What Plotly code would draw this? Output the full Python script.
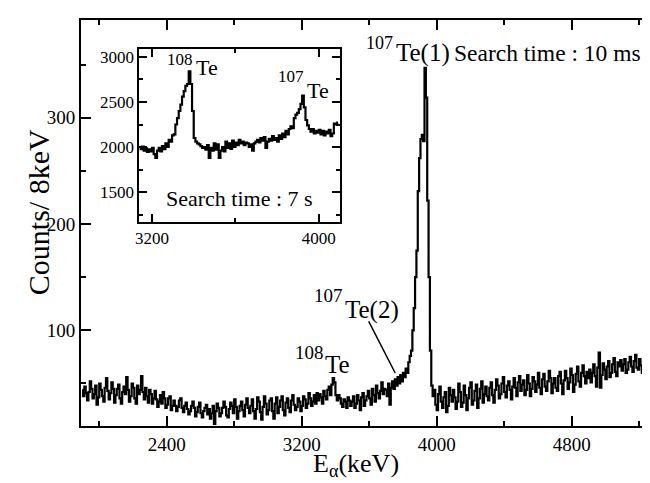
import numpy as np
import plotly.graph_objects as go

# ---------------- data ----------------
BIN_KEV = 8
main_start_kev = 1900          # centre of first bin of the main spectrum
counts_main = [
    44, 38, 47, 41, 34, 42, 52, 45, 36, 40, 48, 30, 37, 50, 44, 38, 33, 46, 55, 43, 35, 41, 51, 45, 32,
    39, 45, 49, 36, 31, 42, 47, 40, 56, 44, 33, 38, 50, 46, 36, 31, 48, 40, 44, 57, 42, 35, 46, 38, 32,
    44, 40, 31, 36, 43, 35, 28, 33, 39, 31, 42, 36, 27, 30, 36, 38, 25, 29, 34, 29, 24, 28, 34, 36, 27,
    23, 29, 32, 26, 21, 24, 29, 33, 27, 19, 23, 28, 32, 22, 18, 24, 27, 30, 21, 26, 17, 22, 29, 12, 24,
    31, 27, 19, 22, 27, 33, 28, 20, 18, 26, 32, 29, 22, 35, 28, 17, 24, 29, 33, 25, 19, 30, 36, 27, 22,
    29, 35, 24, 17, 26, 37, 33, 23, 16, 28, 38, 31, 21, 25, 34, 36, 24, 17, 31, 37, 22, 28, 34, 38, 25,
    20, 32, 36, 27, 23, 34, 39, 30, 25, 28, 36, 33, 24, 29, 38, 35, 27, 31, 41, 36, 29, 33, 39, 31, 41,
    34, 40, 37, 31, 43, 38, 35, 44, 47, 39, 49, 55, 51, 39, 34, 39, 36, 31, 28, 35, 33, 27, 37, 34, 29,
    33, 38, 27, 31, 39, 34, 25, 37, 41, 29, 34, 38, 43, 36, 30, 45, 39, 33, 48, 41, 36, 43, 51, 40, 45,
    44, 38, 50, 30, 46, 52, 45, 54, 48, 56, 50, 58, 52, 60, 56, 64, 60, 70, 76, 81, 100, 121, 150, 175, 231,
    262, 280, 284, 278, 347, 319, 222, 150, 81, 48, 38, 44, 30, 25, 40, 47, 33, 27, 37, 42, 23, 29, 46, 39, 33,
    44, 37, 26, 33, 50, 42, 28, 32, 48, 39, 25, 36, 46, 51, 30, 34, 43, 49, 27, 36, 45, 52, 32, 40, 47,
    38, 34, 46, 51, 39, 32, 44, 54, 48, 36, 40, 50, 56, 42, 37, 48, 52, 44, 35, 47, 55, 46, 38, 51, 57,
    43, 49, 53, 39, 44, 58, 50, 38, 45, 56, 52, 42, 49, 60, 46, 40, 54, 59, 47, 43, 52, 62, 55, 41, 50,
    55, 46, 43, 57, 61, 50, 40, 53, 62, 55, 45, 51, 64, 58, 42, 49, 59, 66, 52, 47, 60, 67, 57, 50, 61,
    55, 63, 51, 60, 68, 57, 47, 65, 79, 46, 58, 69, 63, 54, 66, 71, 56, 60, 68, 74, 61, 57, 70, 66, 72,
    62, 68, 73, 60, 63, 70, 75, 66, 61, 71, 77, 65, 63, 73, 67, 60, 76, 72, 66, 78, 70, 64, 74, 77, 68,
    72,
]

inset_start_kev = 3140
counts_inset = [
    1990, 1975, 2005, 1960, 1985, 1945, 1975, 1950, 1990, 1920, 1880, 1960,
    1990, 1950, 2010, 1975, 2040, 2000, 2080, 2060, 2130, 2140,
    2250, 2320, 2400, 2470, 2560, 2620, 2680, 2700, 2840, 2700, 2400, 2100, 2060, 2040, 2030,
    2010, 1990, 2000, 1970, 2020, 1880, 1990, 1960, 2040, 1970, 2030, 1880, 1960, 2000, 1950, 2060,
    1990, 2040, 1980, 2070, 2000, 2050, 2020, 2080, 2040, 2060, 2020, 2050, 2040, 2000, 2030, 1960, 2040,
    2060, 2080, 2050, 2100, 2070, 2110, 1990, 2060, 2090, 2070, 2120, 2080, 2100, 2060, 2130, 2090,
    2150, 2110, 2180, 2140, 2200, 2230, 2210, 2320, 2360, 2380, 2420, 2480, 2570, 2440, 2300, 2240,
    2200, 2170, 2200, 2150, 2180, 2160, 2190, 2140, 2180, 2130, 2170, 2150, 2190, 2120, 2150, 2260,
    2250, 2270,
]

main_x_range = [1892, 5300]
main_y_range = [10, 392]
inset_x_range = [3140, 4102]
inset_y_range = [1167, 3092]

# ---------------- figure ----------------
x_main = main_start_kev + BIN_KEV * np.arange(len(counts_main))
x_inset = inset_start_kev + BIN_KEV * np.arange(len(counts_inset))

W, H = 650, 483
L, R, T, B = 73, 650, 12, 418
FONT = "Liberation Serif"


def px(X, Y):
    return (X - L) / (R - L), (B - Y) / (B - T)


fig = go.Figure()
fig.add_trace(go.Scatter(x=x_main, y=counts_main, mode="lines",
                         line=dict(color="black", width=2.2, shape="hvh"),
                         xaxis="x", yaxis="y", showlegend=False))
fig.add_trace(go.Scatter(x=x_inset, y=counts_inset, mode="lines",
                         line=dict(color="black", width=2.2, shape="hvh"),
                         xaxis="x2", yaxis="y2", showlegend=False))

ix0, iy1 = px(131.7, 40.7)
ix1, iy0 = px(333, 214)


def axis(rng, dtick, minor, ticklen, fsize, **kw):
    d = dict(range=rng, tick0=0, dtick=dtick, ticks="inside", ticklen=ticklen,
             tickwidth=1.5, tickcolor="black",
             minor=dict(dtick=minor, tick0=0, ticks="inside", ticklen=ticklen // 2,
                        tickwidth=1.5, tickcolor="black", showgrid=False),
             showline=True, linewidth=2, linecolor="black", mirror="allticks",
             showgrid=False, zeroline=False,
             tickfont=dict(family=FONT, size=fsize, color="black"))
    d.update(kw)
    return d


fig.update_layout(
    width=W, height=H,
    margin=dict(l=L, r=W - R, t=T, b=H - B),
    paper_bgcolor="white", plot_bgcolor="white",
    xaxis=axis(main_x_range, 800, 400, 10, 19, domain=[0, 1], anchor="y"),
    yaxis=axis(main_y_range, 100, 50, 10, 19, domain=[0, 1], anchor="x"),
    xaxis2=axis(inset_x_range, 800, 400, 8, 17, domain=[ix0, ix1], anchor="y2"),
    yaxis2=axis(inset_y_range, 500, 250, 8, 17, domain=[iy0, iy1], anchor="x2"),
)

ann = []


def text(s, X, Y, size, xanchor="left", angle=0):
    x, y = px(X, Y)
    ann.append(dict(text=s, x=x, y=y, xref="paper", yref="paper",
                    xanchor=xanchor, yanchor="middle", showarrow=False,
                    textangle=angle,
                    font=dict(family=FONT, size=size, color="black")))


text("Counts/ 8keV", 30, 204, 30, xanchor="center", angle=-90)
text("E<sub>α</sub>(keV)", 349, 457, 26, xanchor="center")

text("107", 357, 35, 18)
text("Te(1)", 387, 45, 25)
text("Search time : 10 ms", 445, 45, 23.5)
text("107", 305, 287, 19)
text("Te(2)", 336, 302, 25)
text("108", 286, 344, 19)
text("Te", 316, 356, 25)

text("108", 157, 51, 17)
text("Te", 186, 60, 22)
text("107", 269, 68, 17)
text("Te", 298, 82, 22)
text("Search time : 7 s", 232, 190, 22, xanchor="center")

fig.update_layout(annotations=ann)

lx0, ly0 = px(361.7, 313.3)
lx1, ly1 = px(388.3, 365)
fig.add_shape(type="line", xref="paper", yref="paper", x0=lx0, y0=ly0, x1=lx1, y1=ly1,
              line=dict(color="black", width=1.5))

fig.write_html("out.html")
